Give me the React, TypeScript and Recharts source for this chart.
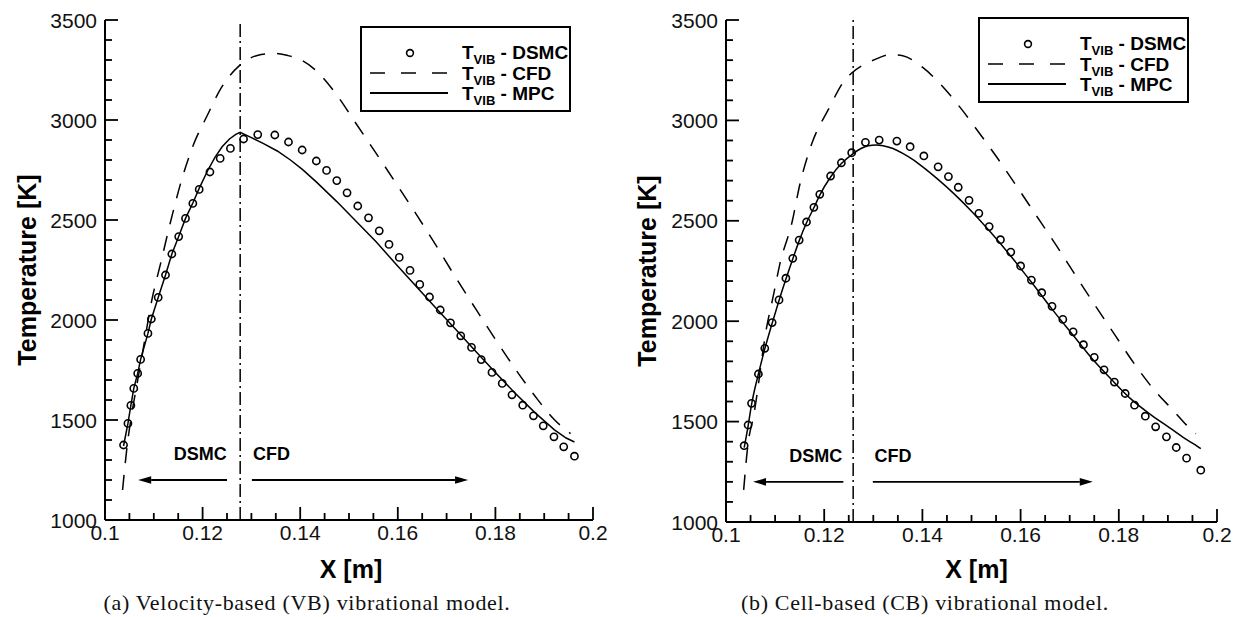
import React from 'react';
import { ComposedChart, Line, Scatter, XAxis, YAxis, ReferenceLine, ReferenceDot, Legend } from 'recharts';

// ---------- axis ticks ----------
const X_TICKS = [0.1, 0.105, 0.11, 0.115, 0.12, 0.125, 0.13, 0.135, 0.14, 0.145, 0.15, 0.155, 0.16, 0.165, 0.17, 0.175, 0.18, 0.185, 0.19, 0.195, 0.2];
const X_MAJOR = [0.1, 0.12, 0.14, 0.16, 0.18, 0.2];
const X_TICK_LABELS = ['0.1', '0.12', '0.14', '0.16', '0.18', '0.2'];
const Y_TICKS = [1000, 1100, 1200, 1300, 1400, 1500, 1600, 1700, 1800, 1900, 2000, 2100, 2200, 2300, 2400, 2500, 2600, 2700, 2800, 2900, 3000, 3100, 3200, 3300, 3400, 3500];
const Y_MAJOR = [1000, 1500, 2000, 2500, 3000, 3500];
const Y_TICK_LABELS = ['1000', '1500', '2000', '2500', '3000', '3500'];
const X_DOMAIN = [0.1, 0.2];
const Y_DOMAIN = [1000, 3500];

const X_TITLE = 'X [m]';
const Y_TITLE = 'Temperature [K]';
const LEGEND_LABELS = ['DSMC', 'CFD', 'MPC'];
const CAPTIONS = ['(a) Velocity-based (VB) vibrational model.', '(b) Cell-based (CB) vibrational model.'];
const REGION_LABELS = ['DSMC', 'CFD'];

// ---------- (a) velocity-based ----------
const VB_DSMC_X = [0.1038, 0.1047, 0.1053, 0.1059, 0.1067, 0.1073, 0.1088, 0.1095, 0.1109, 0.1124, 0.1137, 0.1151, 0.1165, 0.1180, 0.1193, 0.1215, 0.1236, 0.1257, 0.1284, 0.1313, 0.1348, 0.1376, 0.1404, 0.1433, 0.1454, 0.1475, 0.1496, 0.1518, 0.1540, 0.1562, 0.1582, 0.1603, 0.1625, 0.1645, 0.1665, 0.1687, 0.1708, 0.1729, 0.1751, 0.1771, 0.1793, 0.1814, 0.1834, 0.1856, 0.1878, 0.1898, 0.1920, 0.1940, 0.1962];
const VB_DSMC_T = [1375, 1483, 1573, 1658, 1733, 1803, 1933, 2005, 2113, 2225, 2330, 2417, 2508, 2583, 2653, 2740, 2808, 2858, 2905, 2927, 2925, 2890, 2850, 2795, 2748, 2697, 2636, 2570, 2511, 2446, 2378, 2313, 2248, 2178, 2115, 2050, 1986, 1921, 1863, 1802, 1738, 1683, 1626, 1574, 1521, 1471, 1416, 1366, 1319];

const VB_MPC_X = [0.1038, 0.1047, 0.1053, 0.1059, 0.1067, 0.1073, 0.1088, 0.1095, 0.1109, 0.1124, 0.1137, 0.1151, 0.1165, 0.1180, 0.1193, 0.1210, 0.1225, 0.1240, 0.1255, 0.1268, 0.1277, 0.1300, 0.1325, 0.1353, 0.1380, 0.1405, 0.1434, 0.1475, 0.1515, 0.1556, 0.1596, 0.1637, 0.1678, 0.1718, 0.1759, 0.1799, 0.1840, 0.1881, 0.1921, 0.1945, 0.1962];
const VB_MPC_T = [1370, 1483, 1573, 1658, 1733, 1803, 1933, 2005, 2113, 2225, 2330, 2417, 2508, 2585, 2658, 2745, 2812, 2866, 2905, 2928, 2938, 2912, 2882, 2845, 2800, 2752, 2688, 2592, 2492, 2390, 2280, 2170, 2060, 1955, 1845, 1740, 1635, 1537, 1451, 1410, 1390];

const VB_CFD_X = [0.1036, 0.1046, 0.1055, 0.1067, 0.1080, 0.1096, 0.1114, 0.1137, 0.1157, 0.1181, 0.1209, 0.1239, 0.1276, 0.1312, 0.1345, 0.1375, 0.1402, 0.1434, 0.1475, 0.1515, 0.1556, 0.1596, 0.1637, 0.1678, 0.1718, 0.1759, 0.1799, 0.1840, 0.1881, 0.1921, 0.1954];
const VB_CFD_T = [1150, 1383, 1533, 1699, 1879, 2100, 2283, 2517, 2700, 2875, 3020, 3164, 3273, 3323, 3333, 3322, 3300, 3244, 3125, 2980, 2832, 2685, 2532, 2374, 2215, 2058, 1907, 1758, 1620, 1501, 1432];

// ---------- (b) cell-based ----------
const CB_DSMC_X = [0.1037, 0.1045, 0.1052, 0.1066, 0.1079, 0.1094, 0.1108, 0.1122, 0.1136, 0.1149, 0.1164, 0.1179, 0.1191, 0.1213, 0.1235, 0.1256, 0.1284, 0.1312, 0.1348, 0.1375, 0.1403, 0.1432, 0.1453, 0.1473, 0.1495, 0.1515, 0.1536, 0.1559, 0.1580, 0.1600, 0.1622, 0.1643, 0.1664, 0.1686, 0.1707, 0.1728, 0.1750, 0.1770, 0.1791, 0.1813, 0.1832, 0.1854, 0.1875, 0.1897, 0.1917, 0.1938, 0.1967];
const CB_DSMC_T = [1380, 1483, 1591, 1737, 1865, 1993, 2106, 2214, 2313, 2404, 2494, 2567, 2632, 2723, 2789, 2839, 2891, 2902, 2897, 2869, 2823, 2769, 2720, 2667, 2602, 2537, 2471, 2406, 2344, 2275, 2205, 2142, 2074, 2009, 1947, 1883, 1820, 1758, 1697, 1640, 1582, 1527, 1474, 1424, 1371, 1318, 1258];

const CB_MPC_X = [0.1037, 0.1045, 0.1052, 0.1066, 0.1079, 0.1094, 0.1108, 0.1122, 0.1136, 0.1149, 0.1164, 0.1179, 0.1191, 0.1213, 0.1235, 0.1259, 0.1275, 0.1290, 0.1305, 0.1320, 0.1340, 0.1360, 0.1380, 0.1400, 0.1430, 0.1463, 0.1500, 0.1540, 0.1584, 0.1625, 0.1664, 0.1705, 0.1744, 0.1785, 0.1825, 0.1865, 0.1903, 0.1935, 0.1955, 0.1967];
const CB_MPC_T = [1370, 1478, 1585, 1737, 1862, 1990, 2103, 2210, 2310, 2400, 2490, 2565, 2628, 2718, 2785, 2835, 2860, 2874, 2878, 2874, 2860, 2836, 2806, 2770, 2710, 2638, 2548, 2440, 2312, 2185, 2060, 1936, 1818, 1710, 1612, 1535, 1470, 1415, 1385, 1365];

const CB_CFD_X = [0.1036, 0.1045, 0.1056, 0.1083, 0.1096, 0.1110, 0.1134, 0.1151, 0.1175, 0.1208, 0.1244, 0.1256, 0.1304, 0.1336, 0.1360, 0.1400, 0.1448, 0.1480, 0.1512, 0.1552, 0.1592, 0.1632, 0.1673, 0.1713, 0.1753, 0.1793, 0.1833, 0.1873, 0.1913, 0.1937, 0.1957];
const CB_CFD_T = [1160, 1392, 1524, 1973, 2122, 2288, 2488, 2687, 2886, 3052, 3207, 3236, 3304, 3328, 3322, 3265, 3150, 3055, 2950, 2815, 2672, 2526, 2376, 2224, 2074, 1928, 1783, 1655, 1550, 1485, 1440];

const zip = (xs: number[], ts: number[]) => xs.map((x, i) => ({ x, t: ts[i] }));

const SANS = '"Liberation Sans", Arial, Helvetica, sans-serif';
const SERIF = '"Liberation Serif", "Times New Roman", serif';
const MINOR_LEN = 7;
const MAJOR_LEN = 13;

const isIn = (list: number[], v: number) => list.findIndex((m) => Math.abs(m - v) < 1e-9);

// tick labels (major ticks only)
const renderXTick = (props: any) => {
  const v = props.payload ? props.payload.value : 0;
  const idx = isIn(X_MAJOR, v);
  if (idx < 0) return <g />;
  return (
    <text x={Number(props.x)} y={Number(props.y) + 20} textAnchor="middle" fontFamily={SANS} fontSize={21} fill="#111">
      {X_TICK_LABELS[idx]}
    </text>
  );
};

const renderYTick = (props: any) => {
  const v = props.payload ? props.payload.value : 0;
  const idx = isIn(Y_MAJOR, v);
  if (idx < 0) return <g />;
  return (
    <text x={Number(props.x) - 8} y={Number(props.y) + 7.5} textAnchor="end" fontFamily={SANS} fontSize={21} fill="#111">
      {Y_TICK_LABELS[idx]}
    </text>
  );
};

const arrowShape = (props: any) => {
  const { x1, y1, x2, y2 } = props;
  const dir = Math.sign(x2 - x1) || 1;
  const hl = 13;
  const hw = 3.8;
  const bx = x2 - dir * hl;
  return (
    <g>
      <line x1={x1} y1={y1} x2={bx} y2={y2} stroke="#000" strokeWidth={1.9} />
      <polygon points={`${x2},${y2} ${bx},${y2 - hw} ${bx},${y2 + hw}`} fill="#000" />
    </g>
  );
};

const textShape = (label: string) => (props: any) => (
  <text x={props.cx} y={props.cy} textAnchor="middle" fontFamily={SANS} fontWeight="bold" fontSize={18} fill="#000">
    {label}
  </text>
);

const circleShape = (props: any) => (
  <circle cx={props.cx} cy={props.cy} r={3.6} fill="none" stroke="#000" strokeWidth={1.6} />
);

function LegendBox({ w, h }: { w: number; h: number }) {
  const rows = [33, 53.5, 74];
  return (
    <svg width={w} height={h} style={{ display: 'block' }}>
      <rect x={1} y={1} width={w - 2} height={h - 2} fill="#fff" stroke="#000" strokeWidth={2} />
      <circle cx={50} cy={27} r={3.4} fill="none" stroke="#000" strokeWidth={1.6} />
      <line x1={10} x2={88} y1={47} y2={47} stroke="#000" strokeWidth={1.6} strokeDasharray="15 16" />
      <line x1={10} x2={88} y1={67} y2={67} stroke="#000" strokeWidth={1.8} />
      {LEGEND_LABELS.map((lab, i) => (
        <text key={lab} x={102} y={rows[i]} fontFamily={SANS} fontWeight="bold" fontSize={19} fill="#000">
          T
          <tspan fontSize={13} dy={5}>VIB</tspan>
          <tspan fontSize={19} dy={-5}>{' - ' + lab}</tspan>
        </text>
      ))}
    </svg>
  );
}

type PanelProps = {
  width: number;
  margin: { top: number; right: number; bottom: number; left: number };
  dsmc: { x: number; t: number }[];
  mpc: { x: number; t: number }[];
  cfd: { x: number; t: number }[];
  mpcType: 'linear' | 'monotone';
  iface: number;
  leftArrow: [number, number];
  rightArrow: [number, number];
  dsmcTextX: number;
  cfdTextX: number;
  legendPos: { left: number; top: number };
  yTitleDx: number;
  xTitleDx: number;
  xTitleDy: number;
};

const Y_AXIS_W = 60;
const X_AXIS_H = 30;
const CHART_H = 617;

// inward tick marks, placed with the same linear mapping the axes use
function TickOverlay({ width, margin }: { width: number; margin: PanelProps['margin'] }) {
  const left = margin.left + Y_AXIS_W;
  const right = width - margin.right;
  const top = margin.top;
  const bottom = CHART_H - margin.bottom - X_AXIS_H;
  const sx = (v: number) => left + ((v - X_DOMAIN[0]) / (X_DOMAIN[1] - X_DOMAIN[0])) * (right - left);
  const sy = (v: number) => bottom - ((v - Y_DOMAIN[0]) / (Y_DOMAIN[1] - Y_DOMAIN[0])) * (bottom - top);
  return (
    <svg width={width} height={CHART_H} style={{ position: 'absolute', left: 0, top: 0, pointerEvents: 'none', zIndex: 5 }}>
      {X_TICKS.map((v) => {
        const len = isIn(X_MAJOR, v) >= 0 ? MAJOR_LEN : MINOR_LEN;
        return <line key={'ox' + v} x1={sx(v)} x2={sx(v)} y1={bottom} y2={bottom - len} stroke="#000" strokeWidth={1.8} />;
      })}
      {Y_TICKS.map((v) => {
        const len = isIn(Y_MAJOR, v) >= 0 ? MAJOR_LEN : MINOR_LEN;
        return <line key={'oy' + v} x1={left} x2={left + len} y1={sy(v)} y2={sy(v)} stroke="#000" strokeWidth={1.8} />;
      })}
    </svg>
  );
}

function Panel(p: PanelProps) {
  return (
    <div style={{ position: 'relative', width: p.width, height: CHART_H }}>
      <ComposedChart width={p.width} height={CHART_H} margin={p.margin}>
        <XAxis
          type="number"
          dataKey="x"
          domain={X_DOMAIN}
          ticks={X_TICKS}
          interval={0}
          allowDataOverflow
          tickSize={0}
          tickMargin={0}
          tickLine={false}
          tick={renderXTick}
          height={X_AXIS_H}
          axisLine={{ stroke: '#000', strokeWidth: 2 }}
          label={{
            content: (lp: any) => {
              const vb = lp.viewBox || { x: 0, y: 0, width: 0, height: 0 };
              return (
                <text x={vb.x + vb.width / 2 + p.xTitleDx} y={vb.y + p.xTitleDy} textAnchor="middle" fontFamily={SANS} fontWeight="bold" fontSize={25} fill="#000">
                  {X_TITLE}
                </text>
              );
            },
          }}
        />
        <YAxis
          type="number"
          domain={Y_DOMAIN}
          ticks={Y_TICKS}
          interval={0}
          allowDataOverflow
          tickSize={0}
          tickMargin={0}
          tickLine={false}
          tick={renderYTick}
          width={Y_AXIS_W}
          axisLine={{ stroke: '#000', strokeWidth: 2 }}
          label={{
            content: (lp: any) => {
              const vb = lp.viewBox || { x: 0, y: 0, width: 0, height: 0 };
              const cx = vb.x + p.yTitleDx;
              const cy = vb.y + vb.height / 2;
              return (
                <text x={cx} y={cy} transform={`rotate(-90, ${cx}, ${cy})`} textAnchor="middle" fontFamily={SANS} fontWeight="bold" fontSize={25} fill="#000">
                  {Y_TITLE}
                </text>
              );
            },
          }}
        />
        <ReferenceLine x={p.iface} stroke="#000" strokeWidth={1.5} strokeDasharray="13 4 2 4" />
        <ReferenceLine segment={[{ x: p.leftArrow[1], y: 1200 }, { x: p.leftArrow[0], y: 1200 }]} shape={arrowShape} />
        <ReferenceLine segment={[{ x: p.rightArrow[0], y: 1200 }, { x: p.rightArrow[1], y: 1200 }]} shape={arrowShape} />
        <ReferenceDot x={p.dsmcTextX} y={1300} r={0} shape={textShape(REGION_LABELS[0])} />
        <ReferenceDot x={p.cfdTextX} y={1300} r={0} shape={textShape(REGION_LABELS[1])} />
        <Line data={p.cfd} dataKey="t" type="monotone" stroke="#000" strokeWidth={1.5} strokeDasharray="15 12" dot={false} isAnimationActive={false} />
        <Line data={p.mpc} dataKey="t" type={p.mpcType} stroke="#000" strokeWidth={1.5} dot={false} isAnimationActive={false} />
        <Scatter data={p.dsmc} dataKey="t" shape={circleShape} isAnimationActive={false} />
        <Legend
          layout="horizontal"
          verticalAlign="middle"
          align="center"
          content={() => <LegendBox w={211} h={86} />}
          wrapperStyle={{ position: 'absolute', left: p.legendPos.left, top: p.legendPos.top, width: 211, height: 86 }}
        />
      </ComposedChart>
      <TickOverlay width={p.width} margin={p.margin} />
    </div>
  );
}

export default function App() {
  return (
    <div style={{ position: 'fixed', left: 0, top: 0, width: 1236, height: 617, background: '#fff', overflow: 'hidden' }}>
      <div style={{ position: 'absolute', left: 0, top: 0 }}>
        <Panel
          width={620}
          margin={{ top: 20, right: 27, bottom: 67, left: 45 }}
          dsmc={zip(VB_DSMC_X, VB_DSMC_T)}
          mpc={zip(VB_MPC_X, VB_MPC_T)}
          cfd={zip(VB_CFD_X, VB_CFD_T)}
          mpcType="linear"
          iface={0.1277}
          leftArrow={[0.1068, 0.125]}
          rightArrow={[0.1301, 0.1744]}
          dsmcTextX={0.1195}
          cfdTextX={0.1341}
          legendPos={{ left: 360, top: 26 }}
          yTitleDx={-9}
          xTitleDx={2}
          xTitleDy={58}
        />
      </div>
      <div style={{ position: 'absolute', left: 620, top: 0 }}>
        <Panel
          width={616}
          margin={{ top: 20, right: 19, bottom: 65, left: 46 }}
          dsmc={zip(CB_DSMC_X, CB_DSMC_T)}
          mpc={zip(CB_MPC_X, CB_MPC_T)}
          cfd={zip(CB_CFD_X, CB_CFD_T)}
          mpcType="monotone"
          iface={0.1259}
          leftArrow={[0.1055, 0.1239]}
          rightArrow={[0.1299, 0.1747]}
          dsmcTextX={0.1183}
          cfdTextX={0.134}
          legendPos={{ left: 358, top: 17 }}
          yTitleDx={-10}
          xTitleDx={5}
          xTitleDy={56}
        />
      </div>
      <div style={{ position: 'absolute', left: 7, top: 590, width: 600, textAlign: 'center', fontFamily: SERIF, fontSize: 22, letterSpacing: 0.7, color: '#111', lineHeight: '26px' }}>
        {CAPTIONS[0]}
      </div>
      <div style={{ position: 'absolute', left: 625, top: 590, width: 600, textAlign: 'center', fontFamily: SERIF, fontSize: 22, letterSpacing: 0.7, color: '#111', lineHeight: '26px' }}>
        {CAPTIONS[1]}
      </div>
    </div>
  );
}
